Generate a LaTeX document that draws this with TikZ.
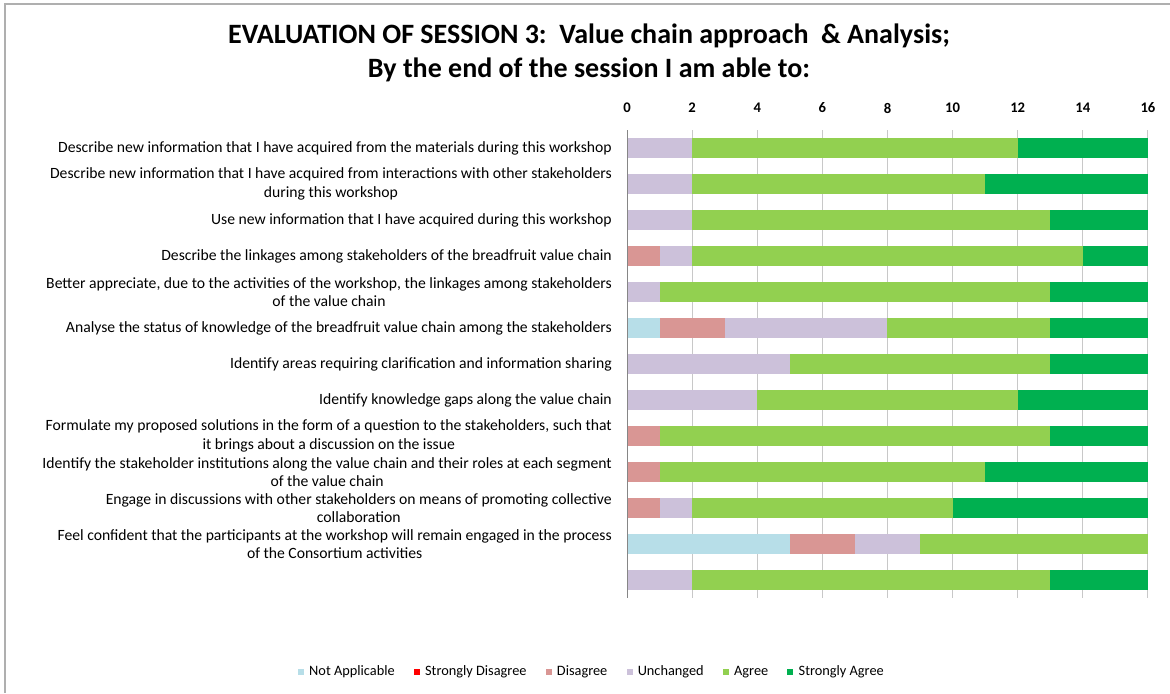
\documentclass[tikz,border=0pt]{standalone}
\usepackage{fontspec}
\setmainfont{Carlito}
\usetikzlibrary{positioning}
\definecolor{notappl}{RGB}{183,222,232}
\definecolor{sdisagree}{RGB}{255,0,0}
\definecolor{disagree}{RGB}{217,150,148}
\definecolor{unchanged}{RGB}{204,193,218}
\definecolor{agree}{RGB}{146,208,80}
\definecolor{sagree}{RGB}{0,176,80}
\definecolor{gridgray}{RGB}{200,200,200}
\definecolor{axisgray}{RGB}{134,134,134}
\definecolor{framegray}{RGB}{175,175,175}
\tikzset{
  catlabel/.style={anchor=east, align=center, inner sep=0pt, font=\fontsize{11.75}{13.75}\selectfont},
  ticklabel/.style={inner sep=0pt, font=\fontsize{11}{13}\selectfont\bfseries},
  legsquare/.style={minimum size=4.5pt, inner sep=0pt},
  legtext/.style={inner sep=0pt, font=\fontsize{10.75}{12}\selectfont},
}

\begin{document}
\begin{tikzpicture}[x=0.75pt, y=-0.75pt]
  \useasboundingbox (0,0) rectangle (1170,693);
  \fill[white] (0,0) rectangle (1170,693);

  % chart frame
  \draw[framegray, line width=1.5pt] (5,693) -- (5,4) -- (1170,4);

  \node[align=center, font=\fontsize{21}{25.5}\selectfont\bfseries] (title) at (589,53)
    {EVALUATION OF SESSION 3:\ \ Value chain approach\ \ \& Analysis;\\By the end of the session I am able to:};

  \begin{scope}[shift={(627,112)}, x=24.42pt, y=-27pt]
    % gridlines and axis values
    \foreach \i in {2,4,...,16} {
      \draw[gridgray, line width=0.75pt] (\i,0.5) -- (\i,13.5);
    }
    \foreach \i in {0,2,...,16} {
      \node[ticklabel] (t\i) at (\i,-0.11) {\i};
    }

    % stacked bars: end of segment / colour
    \foreach \r/\segs in {1/{2/unchanged,12/agree,16/sagree},
        2/{2/unchanged,11/agree,16/sagree},
        3/{2/unchanged,13/agree,16/sagree},
        4/{1/disagree,2/unchanged,14/agree,16/sagree},
        5/{1/unchanged,13/agree,16/sagree},
        6/{1/notappl,3/disagree,8/unchanged,13/agree,16/sagree},
        7/{5/unchanged,13/agree,16/sagree},
        8/{4/unchanged,12/agree,16/sagree},
        9/{1/disagree,13/agree,16/sagree},
        10/{1/disagree,11/agree,16/sagree},
        11/{1/disagree,2/unchanged,10/agree,16/sagree},
        12/{5/notappl,7/disagree,9/unchanged,16/agree},
        13/{2/unchanged,13/agree,16/sagree}} {
      \foreach \e/\c [remember=\e as \s (initially 0)] in \segs {
        \fill[\c] (\s,\r-0.278) rectangle (\e,\r+0.278);
      }
    }
    \draw[axisgray, line width=0.75pt] (0,0.5) -- (0,13.5);

    % statements
    \foreach \r/\txt in {1/{Describe new information that I have acquired from the materials during this workshop},
        2/{Describe new information that I have acquired from interactions with other stakeholders\\during this workshop},
        3/{Use new information that I have acquired during this workshop},
        4/{Describe the linkages among stakeholders of the breadfruit value chain},
        5/{Better appreciate, due to the activities of the workshop, the linkages among stakeholders\\of the value chain},
        6/{Analyse the status of knowledge of the breadfruit value chain among the stakeholders},
        7/{Identify areas requiring clarification and information sharing},
        8/{Identify knowledge gaps along the value chain},
        9/{Formulate my proposed solutions in the form of a question to the stakeholders, such that\\it brings about a discussion on the issue},
        10/{Identify the stakeholder institutions along the value chain and their roles at each segment\\of the value chain},
        11/{Engage in discussions with other stakeholders on means of promoting collective\\collaboration},
        12/{Feel confident that the participants at the workshop will remain engaged in the process\\of the Consortium activities}} {
      \node[catlabel] (q\r) at (-0.46,\r) {\txt};
    }
  \end{scope}

  % legend
  \node[legsquare, fill=notappl] (sq1) at (301,672) {};
  \node[legtext, right=3.5pt of sq1] (lt1) {Not Applicable};
  \foreach \i/\c/\t [remember=\i as \j (initially 1)] in {2/sdisagree/Strongly Disagree,
      3/disagree/Disagree, 4/unchanged/Unchanged, 5/agree/Agree, 6/sagree/Strongly Agree} {
    \node[legsquare, fill=\c, right=14pt of lt\j] (sq\i) {};
    \node[legtext, right=3.5pt of sq\i] (lt\i) {\t};
  }
\end{tikzpicture}
\end{document}
